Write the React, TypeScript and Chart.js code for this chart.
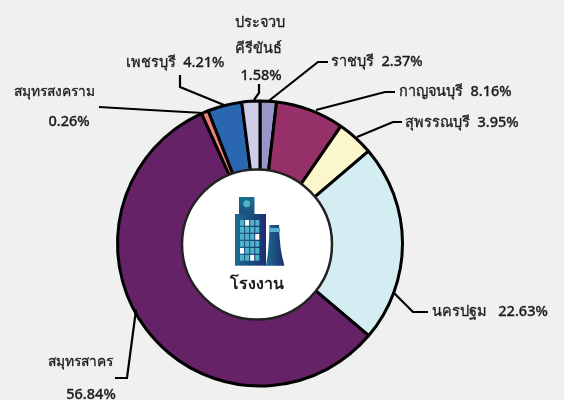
import React, { useEffect, useRef } from "react";
import { Chart, registerables } from "chart.js";

Chart.register(...registerables);

const provinces = ["ราชบุรี", "กาญจนบุรี", "สุพรรณบุรี", "นครปฐม", "สมุทรสาคร", "สมุทรสงคราม", "เพชรบุรี", "ประจวบคีรีขันธ์"];
// printed percentages, as the labels read
const printedShares = ["2.37%", "8.16%", "3.95%", "22.63%", "56.84%", "0.26%", "4.21%", "1.58%"];
const sliceShares = [1.86, 7.75, 4.17, 22.4, 57.1, 0.8, 3.87, 2.05];
const sliceColors = ["#9896c8", "#963068", "#fbf6cc", "#d3edf3", "#662266", "#f07f7a", "#2b66b0", "#cfcde8"];
const centerLabel = "โรงงาน";

const FONT = '"Noto Sans", "DejaVu Sans", sans-serif';
const INK = "#1c1c1c";

type Callout = {
  elbow: [number, number];
  end: [number, number];
  anchor?: [number, number];
  text: { s: string; x: number; y: number; align?: CanvasTextAlign; size?: number }[];
};

const callouts: Callout[] = [
  { elbow: [318, 62], end: [328, 62], text: [{ s: `${provinces[0]}  ${printedShares[0]}`, x: 331, y: 60, align: "left" }] },
  { elbow: [385, 92], end: [395, 92], anchor: [316, 110], text: [{ s: `${provinces[1]}  ${printedShares[1]}`, x: 399, y: 90.5, align: "left" }] },
  { elbow: [393, 122], end: [402, 122], anchor: [357, 137], text: [{ s: `${provinces[2]}  ${printedShares[2]}`, x: 405, y: 121, align: "left" }] },
  { elbow: [413, 312], end: [428, 312], anchor: [393, 292], text: [{ s: `${provinces[3]}   ${printedShares[3]}`, x: 432, y: 310, align: "left" }] },
  { elbow: [127, 378], end: [115, 378], anchor: [136, 310], text: [{ s: provinces[4], x: 80, y: 361, size: 13.8 }, { s: printedShares[4], x: 91, y: 393 }] },
  { elbow: [150, 110], end: [99, 107], anchor: [203, 113], text: [{ s: provinces[5], x: 54.5, y: 91, size: 13.8 }, { s: printedShares[5], x: 69, y: 120 }] },
  { elbow: [180, 87], end: [180, 75], anchor: [224, 105], text: [{ s: `${provinces[6]}  ${printedShares[6]}`, x: 175, y: 61 }] },
  { elbow: [259, 93], end: [259, 84], anchor: [254, 100], text: [{ s: "ประจวบ", x: 260, y: 21 }, { s: "คีรีขันธ์", x: 258, y: 47 }, { s: printedShares[7], x: 261, y: 74 }] },
];

const calloutPlugin = {
  id: "callouts",
  afterDatasetsDraw(chart: any) {
    const ctx = chart.ctx as CanvasRenderingContext2D;
    const arcs = chart.getDatasetMeta(0).data;
    ctx.save();
    arcs.forEach((arc: any, i: number) => {
      const c = callouts[i];
      const mid = (arc.startAngle + arc.endAngle) / 2;
      const ax = c.anchor ? c.anchor[0] : arc.x + Math.cos(mid) * arc.outerRadius;
      const ay = c.anchor ? c.anchor[1] : arc.y + Math.sin(mid) * arc.outerRadius;
      ctx.beginPath();
      ctx.moveTo(ax, ay);
      ctx.lineTo(c.elbow[0], c.elbow[1]);
      ctx.lineTo(c.end[0], c.end[1]);
      ctx.strokeStyle = "#000";
      ctx.lineWidth = 2.2;
      ctx.stroke();
      ctx.fillStyle = INK;
      ctx.strokeStyle = INK;
      ctx.lineWidth = 0.3;
      ctx.textBaseline = "middle";
      c.text.forEach((t) => {
        ctx.font = `500 ${t.size ?? 14.5}px ${FONT}`;
        ctx.textAlign = t.align ?? "center";
        ctx.fillText(t.s, t.x, t.y + 1.5);
        ctx.strokeText(t.s, t.x, t.y + 1.5);
      });
    });

    // centre disc, sitting slightly left of the ring's centre
    const cx = 257;
    const cy = 244.5;
    ctx.beginPath();
    ctx.arc(cx, cy, 75, 0, Math.PI * 2);
    ctx.fillStyle = "#fff";
    ctx.fill();
    ctx.lineWidth = 2.5;
    ctx.strokeStyle = "#222";
    ctx.stroke();

    // factory icon
    const grad = ctx.createLinearGradient(235, 0, 266, 0);
    grad.addColorStop(0, "#1c6d8e");
    grad.addColorStop(1, "#1c2f72");
    const capGrad = ctx.createLinearGradient(0, 197, 0, 214);
    capGrad.addColorStop(0, "#1a6f90");
    capGrad.addColorStop(1, "#1c4f80");
    ctx.fillStyle = capGrad;
    ctx.fillRect(239, 197, 15.5, 17);
    ctx.fillStyle = "#4fb3c9";
    ctx.beginPath();
    ctx.arc(246.7, 203.7, 3.5, 0, Math.PI * 2);
    ctx.fill();
    ctx.fillStyle = grad;
    ctx.fillRect(235, 214, 31, 51.7);
    const whites = ["0,1", "2,3", "4,0", "5,2"];
    for (let r = 0; r < 6; r++) {
      for (let col = 0; col < 4; col++) {
        ctx.fillStyle = whites.includes(`${r},${col}`) ? "#fff" : "#4fb3c9";
        ctx.fillRect(240 + col * 5.1, 220 + r * 7, 4, 5.7);
      }
    }
    const chim = ctx.createLinearGradient(266, 0, 284, 0);
    chim.addColorStop(0, "#1c6d8e");
    chim.addColorStop(1, "#1c2f72");
    ctx.fillStyle = chim;
    ctx.beginPath();
    ctx.moveTo(269.5, 225);
    ctx.lineTo(279, 225);
    ctx.quadraticCurveTo(279.5, 250, 284.5, 265.7);
    ctx.lineTo(266, 265.7);
    ctx.quadraticCurveTo(269, 250, 269.5, 225);
    ctx.closePath();
    ctx.fill();
    ctx.fillStyle = "#4fb3c9";
    ctx.fillRect(269.5, 228, 10.5, 4);

    ctx.fillStyle = INK;
    ctx.font = `600 16px ${FONT}`;
    ctx.textAlign = "center";
    ctx.textBaseline = "middle";
    ctx.fillText(centerLabel, 257, 284);
    ctx.restore();
  },
};

export default function App() {
  const ref = useRef<HTMLCanvasElement>(null);
  useEffect(() => {
    document.body.style.margin = "0";
    document.body.style.background = "#f0f0f0";
    const chart = new Chart(ref.current!, {
      type: "doughnut",
      data: {
        labels: provinces,
        datasets: [{ data: sliceShares, backgroundColor: sliceColors, borderColor: "#000", borderWidth: 3 }],
      },
      options: {
        responsive: false,
        animation: false,
        cutout: "50%",
        layout: { padding: { left: 116, right: 160, top: 99.5, bottom: 12.5 } },
        plugins: { legend: { display: false }, tooltip: { enabled: false } },
      },
      plugins: [calloutPlugin],
    } as any);
    return () => chart.destroy();
  }, []);
  return <canvas ref={ref} width={564} height={400} style={{ display: "block" }} />;
}
